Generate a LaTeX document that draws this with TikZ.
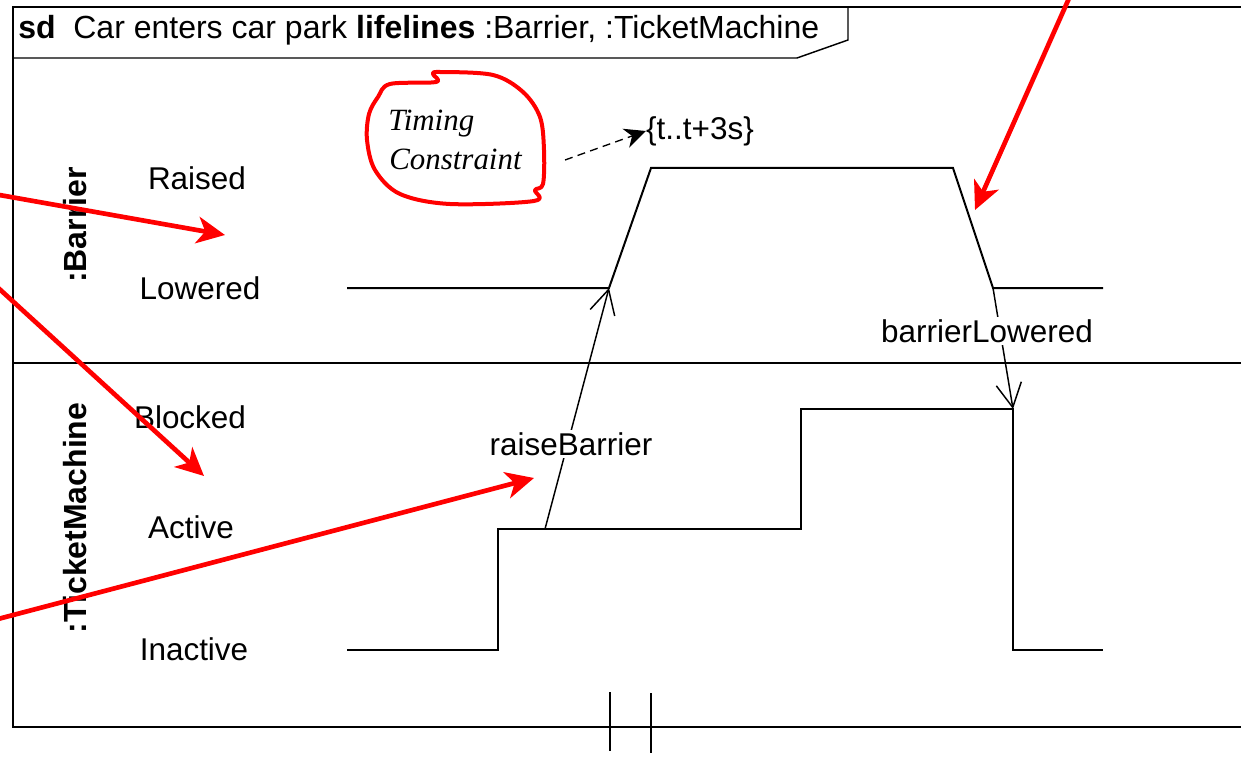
\documentclass[tikz,border=0pt]{standalone}
\usepackage{fontspec}
\setmainfont{Liberation Sans}
\newfontfamily\serifit{Liberation Serif}
\usetikzlibrary{arrows.meta}
\begin{document}
\begin{tikzpicture}[x=0.75pt,y=-0.75pt,
  txt/.style={font=\fontsize{23.6}{28}\selectfont, inner sep=0pt},
  lifel/.style={txt, font=\fontsize{24}{28}\selectfont\bfseries, rotate=90},
  framel/.style={line width=1.1pt},
  sigline/.style={line width=1.5pt, line join=miter},
  msg/.style={line width=1.1pt, -{Straight Barb[length=18pt,width=19pt,line width=1.1pt]}},
  redarr/.style={red, line width=3.5pt, -{Stealth[length=21pt,width=20pt,inset=6pt]}},
  brk/.style={line width=1.8pt},
  msglbl/.style={txt, fill=white, inner sep=2pt},
]
\useasboundingbox (0,0) rectangle (1241,759);
\clip (0,0) rectangle (1241,759);

% frame
\coordinate (ftl) at (13,7);
\coordinate (ftr) at (1260,7);
\coordinate (fbl) at (13,727);
\coordinate (fbr) at (1260,727);
\coordinate (fml) at (13,363);
\coordinate (fmr) at (1260,363);
\draw[framel] (ftr) -- (ftl) -- (fbl) -- (fbr);
\draw[framel] (fml) -- (fmr);
% header pentagon
\coordinate (h1) at (848,7);
\coordinate (h2) at (848,40);
\coordinate (h3) at (797,58);
\coordinate (h4) at (13,58);
\draw[framel] (h1) -- (h2) -- (h3) -- (h4);
\node[txt, font=\fontsize{24}{28}\selectfont, anchor=base west] (title) at (18,39) {\textbf{sd}\ \ Car enters car park \textbf{lifelines} :Barrier, :TicketMachine};

% lifeline names
\node[lifel] (lbar) at (75,225) {:Barrier};
\node[lifel] (ltm) at (75,518) {:TicketMachine};

% state labels
\node[txt] (sRaised) at (197,178) {Raised};
\node[txt] (sLowered) at (200,288) {Lowered};
\node[txt] (sBlocked) at (190,417) {Blocked};
\node[txt] (sActive) at (191,527) {Active};
\node[txt] (sInactive) at (194,649) {Inactive};

% barrier timeline
\coordinate (b0) at (347,288);
\coordinate (b1) at (609,288);
\coordinate (b2) at (651,168);
\coordinate (b3) at (953,168);
\coordinate (b4) at (993,288);
\coordinate (b5) at (1103,288);
\draw[sigline] (b0) -- (b1) -- (b2) -- (b3) -- (b4) -- (b5);

% ticket machine timeline
\coordinate (t0) at (347,650);
\coordinate (t1) at (498,650);
\coordinate (t2) at (498,529);
\coordinate (t3) at (801,529);
\coordinate (t4) at (801,409);
\coordinate (t5) at (1013,409);
\coordinate (t6) at (1013,650);
\coordinate (t7) at (1103,650);
\coordinate (traise) at (545,529);
\draw[sigline] (t0) -- (t1) -- (t2) -- (t3) -- (t4) -- (t5) -- (t6) -- (t7);

% messages
\draw[msg] (traise) -- (b1);
\node[msglbl] (mRaise) at (571,444) {raiseBarrier};
\draw[msg] (b4) -- (t5);
\node[msglbl] (mLower) at (987,331) {barrierLowered};

% timing constraint
\node[txt] (tc) at (700,131) {\{t..t+3s\}};
\coordinate (tcs) at (565,160);
\draw[line width=1pt, dash pattern=on 6pt off 4pt, -{Stealth[length=16pt,width=15pt,inset=5pt]}] (tcs) -- (tc.west);

% note
\node[inner sep=0pt, anchor=base west, font=\serifit\itshape\fontsize{23.2}{28}\selectfont] (n1) at (388,131) {Timing};
\node[inner sep=0pt, anchor=base west, font=\serifit\itshape\fontsize{23.2}{28}\selectfont] (n2) at (389,170) {Constraint};
\draw[red, line width=3pt, line join=round] plot[smooth cycle, tension=0.55] coordinates {
 (390,84) (436,82) (433,74) (440,72) (493,75) (523,92) (540,117) (544,150) (543,184)
 (535,190) (534,201) (450,204) (400,194) (375,170) (367,140) (369,114) (378,97)};

% red annotation arrows
\coordinate (r1s) at (-40,188);
\coordinate (r1e) at (225,235);
\coordinate (r2s) at (-40,253);
\coordinate (r2e) at (204,476);
\coordinate (r3s) at (-40,629);
\coordinate (r3e) at (534,478);
\coordinate (r4s) at (1086,-40);
\coordinate (r4e) at (975,210);
\draw[redarr] (r1s) -- (r1e);
\draw[redarr] (r2s) -- (r2e);
\draw[redarr] (r3s) -- (r3e);
\draw[redarr] (r4s) -- (r4e);

% break marks
\coordinate (k1a) at (610,692);
\coordinate (k1b) at (610,751);
\coordinate (k2a) at (651,693);
\coordinate (k2b) at (651,753);
\draw[brk] (k1a) -- (k1b);
\draw[brk] (k2a) -- (k2b);
\end{tikzpicture}
\end{document}
